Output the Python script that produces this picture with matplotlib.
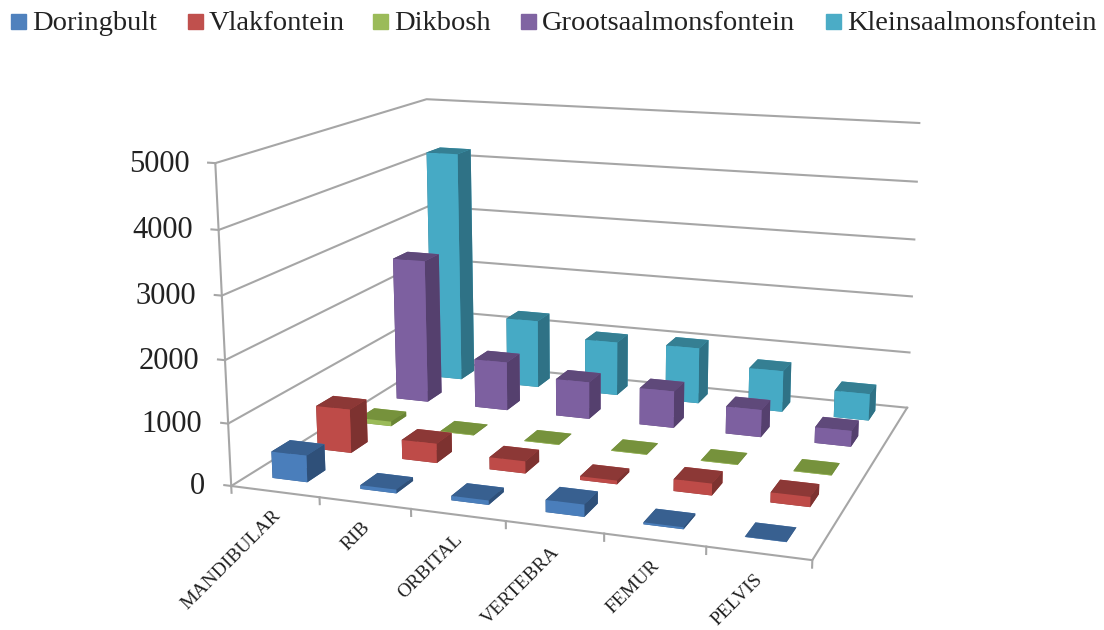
import numpy as np
import matplotlib
matplotlib.use("Agg")
import matplotlib.pyplot as plt
from matplotlib.patches import Rectangle
from mpl_toolkits.mplot3d import proj3d

plt.rcParams["font.family"] = ["Liberation Serif", "DejaVu Serif"]

bones = ["MANDIBULAR", "RIB", "ORBITAL", "VERTEBRA", "FEMUR", "PELVIS"]
sites = ["Doringbult", "Vlakfontein", "Dikbosh", "Grootsaalmonsfontein", "Kleinsaalmonsfontein"]

doringbult = [430, 60, 70, 190, 30, 5]
vlakfontein = [730, 320, 200, 60, 190, 160]
dikbosh = [80, 10, 10, 10, 10, 10]
grootsaalmonsfontein = [2540, 860, 650, 640, 470, 270]
kleinsaalmonsfontein = [4180, 1230, 970, 1000, 730, 470]
counts = [doringbult, vlakfontein, dikbosh, grootsaalmonsfontein, kleinsaalmonsfontein]

z_ticks = [0, 1000, 2000, 3000, 4000, 5000]

# front, top, side
face_colors = [
    ("#4A7EBB", "#386090", "#2F5079"),
    ("#BE4B48", "#8C3836", "#7D3230"),
    ("#9BBB59", "#76923C", "#6A8535"),
    ("#7D60A0", "#5F497A", "#55406E"),
    ("#46AAC5", "#357F93", "#2F7286"),
]
legend_colors = ["#4F81BD", "#C0504D", "#9BBB59", "#8064A2", "#4BACC6"]
legend_x = [11, 188, 373, 521, 826]

W, H = 1104, 630
GRID = "#A6A6A6"
TEXT = "#222222"

fig = plt.figure(figsize=(W / 100, H / 100), dpi=100, facecolor="white")
ax = fig.add_axes([0, 0, 1, 1], projection="3d", computed_zorder=False)
ax.set_xlim(0, 6)
ax.set_ylim(0, 5)
ax.set_zlim(0, 5000)
ax.view_init(elev=13.729, azim=-70.607)
ax.set_proj_type("persp", focal_length=0.439)
ax.set_box_aspect((1, 0.825, 0.552))
ax.set_axis_off()

# camera fit gave scale/centre in pixels, turn that into an axes box
scale, cx, cy = 4170.67, 591.29, 296.04
xmin, xmax = ax.viewLim.intervalx
ymin, ymax = ax.viewLim.intervaly
ax.set_position([
    (cx + scale * xmin) / W,
    (H - cy + scale * ymin) / H,
    scale * (xmax - xmin) / W,
    scale * (ymax - ymin) / H,
])


def label_at(x, y, z, text, shift=(0, 0), **kw):
    # Text3D ignores rotation, so project the anchor and place it in 2D
    px, py, _ = proj3d.proj_transform(x, y, z, ax.get_proj())
    ax.text2D(px + shift[0] / scale, py + shift[1] / scale, text,
              transform=ax.transData, color=TEXT, **kw)


line = dict(color=GRID, lw=1.5, zorder=1)
for z in z_ticks:
    ax.plot([0, 0, 6], [0, 5, 5], [z, z, z], **line)
    ax.plot([-0.08, 0], [0, 0], [z, z], **line)
    label_at(0, 0, z, str(z), shift=(-26, -1), ha="right", va="center", fontsize=22)
ax.plot([0, 0], [0, 0], [0, 5000], **line)
ax.plot([0, 6, 6], [0, 0, 5], [0, 0, 0], **line)
for i in range(7):
    ax.plot([i, i], [0, 0], [0, -110], **line)

for i, bone in enumerate(bones):
    label_at(i + 0.5, 0, -350, bone, shift=(2, 0), rotation=45, ha="right", va="center",
             rotation_mode="anchor", fontsize=14)

# back row first so nearer bars paint over it
dx, dy = 0.4, 0.4
order = 2
for j in range(len(sites) - 1, -1, -1):
    front, top, side = face_colors[j]
    for i in range(len(bones)):
        ax.bar3d(i + 0.475 - dx / 2, j + 0.56 - dy / 2, 0, dx, dy, counts[j][i],
                 color=[top, top, front, front, side, side], shade=False,
                 edgecolor="none", zorder=order)
        order += 1

for name, x, c in zip(sites, legend_x, legend_colors):
    fig.add_artist(Rectangle((x / W, 1 - 29 / H), 15 / W, 15 / H, color=c,
                             transform=fig.transFigure))
    fig.text((x + 21) / W, 1 - 23 / H, name, fontsize=20.5, va="center", color=TEXT)

fig.savefig("out.png", dpi=100)
